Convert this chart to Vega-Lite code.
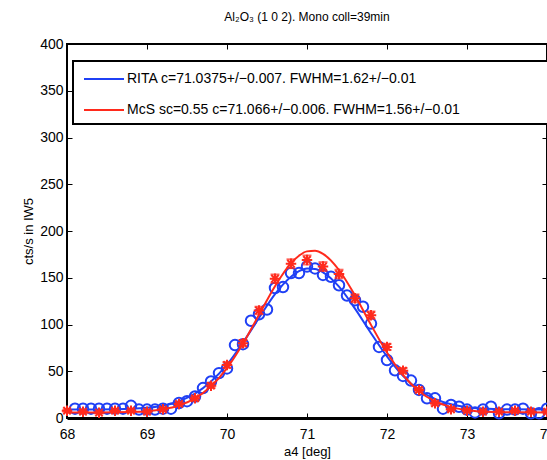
{
  "$schema": "https://vega.github.io/schema/vega-lite/v6.json",
  "width": 480,
  "height": 374,
  "autosize": {"type": "none"},
  "padding": {"left": 67, "top": 44, "right": 0, "bottom": 42},
  "background": "white",
  "title": {"text": "Al₂O₃ (1 0 2). Mono coll=39min", "fontSize": 12, "font": "Liberation Sans", "fontWeight": "normal", "color": "black", "anchor": "middle", "offset": 13},
  "datasets": {
    "fit": [
      {"s": "RITA", "x": 68.0, "y": 9}, {"s": "RITA", "x": 68.4, "y": 9.1}, {"s": "RITA", "x": 68.8, "y": 9.8}, {"s": "RITA", "x": 69.0, "y": 10.9}, {"s": "RITA", "x": 69.2, "y": 13.2}, {"s": "RITA", "x": 69.4, "y": 17.9}, {"s": "RITA", "x": 69.6, "y": 26}, {"s": "RITA", "x": 69.8, "y": 39}, {"s": "RITA", "x": 70.0, "y": 57}, {"s": "RITA", "x": 70.2, "y": 80.7}, {"s": "RITA", "x": 70.4, "y": 107}, {"s": "RITA", "x": 70.6, "y": 132.5}, {"s": "RITA", "x": 70.8, "y": 151}, {"s": "RITA", "x": 70.9, "y": 157}, {"s": "RITA", "x": 71.0, "y": 159.8}, {"s": "RITA", "x": 71.1, "y": 159.4}, {"s": "RITA", "x": 71.2, "y": 155.8}, {"s": "RITA", "x": 71.4, "y": 140.5}, {"s": "RITA", "x": 71.6, "y": 117}, {"s": "RITA", "x": 71.8, "y": 90.7}, {"s": "RITA", "x": 72.0, "y": 65.8}, {"s": "RITA", "x": 72.2, "y": 45}, {"s": "RITA", "x": 72.4, "y": 30}, {"s": "RITA", "x": 72.6, "y": 20.4}, {"s": "RITA", "x": 72.8, "y": 14.7}, {"s": "RITA", "x": 73.0, "y": 11.6}, {"s": "RITA", "x": 73.2, "y": 10.1}, {"s": "RITA", "x": 73.5, "y": 9.25}, {"s": "RITA", "x": 74.0, "y": 9},
      {"s": "McS", "x": 68.0, "y": 6}, {"s": "McS", "x": 68.4, "y": 6}, {"s": "McS", "x": 68.8, "y": 6.5}, {"s": "McS", "x": 69.0, "y": 7.3}, {"s": "McS", "x": 69.2, "y": 9.3}, {"s": "McS", "x": 69.4, "y": 13.3}, {"s": "McS", "x": 69.6, "y": 20.9}, {"s": "McS", "x": 69.8, "y": 33.9}, {"s": "McS", "x": 70.0, "y": 53.4}, {"s": "McS", "x": 70.2, "y": 79.7}, {"s": "McS", "x": 70.4, "y": 110.4}, {"s": "McS", "x": 70.6, "y": 141}, {"s": "McS", "x": 70.8, "y": 165.6}, {"s": "McS", "x": 70.9, "y": 173.6}, {"s": "McS", "x": 71.0, "y": 178.2}, {"s": "McS", "x": 71.1, "y": 178.8}, {"s": "McS", "x": 71.2, "y": 175.5}, {"s": "McS", "x": 71.4, "y": 158.3}, {"s": "McS", "x": 71.6, "y": 131}, {"s": "McS", "x": 71.8, "y": 99.6}, {"s": "McS", "x": 72.0, "y": 70}, {"s": "McS", "x": 72.2, "y": 46}, {"s": "McS", "x": 72.4, "y": 28.7}, {"s": "McS", "x": 72.6, "y": 17.9}, {"s": "McS", "x": 72.8, "y": 11.6}, {"s": "McS", "x": 73.0, "y": 8.4}, {"s": "McS", "x": 73.2, "y": 7.0}, {"s": "McS", "x": 73.5, "y": 6.2}, {"s": "McS", "x": 74.0, "y": 6}
    ],
    "rita": [
      {"x": 68.1, "y": 10}, {"x": 68.2, "y": 10}, {"x": 68.3, "y": 10}, {"x": 68.4, "y": 10}, {"x": 68.5, "y": 10}, {"x": 68.6, "y": 10}, {"x": 68.7, "y": 10}, {"x": 68.8, "y": 13}, {"x": 68.9, "y": 9}, {"x": 69.0, "y": 9}, {"x": 69.1, "y": 9}, {"x": 69.2, "y": 10}, {"x": 69.3, "y": 10}, {"x": 69.4, "y": 16}, {"x": 69.5, "y": 18}, {"x": 69.6, "y": 23}, {"x": 69.7, "y": 32}, {"x": 69.8, "y": 39}, {"x": 69.9, "y": 48}, {"x": 70.0, "y": 53}, {"x": 70.1, "y": 78}, {"x": 70.2, "y": 79}, {"x": 70.3, "y": 104}, {"x": 70.4, "y": 111}, {"x": 70.5, "y": 116}, {"x": 70.6, "y": 139}, {"x": 70.7, "y": 140}, {"x": 70.8, "y": 155}, {"x": 70.9, "y": 155}, {"x": 71.0, "y": 162}, {"x": 71.1, "y": 160}, {"x": 71.2, "y": 153}, {"x": 71.3, "y": 151}, {"x": 71.4, "y": 142}, {"x": 71.5, "y": 131}, {"x": 71.6, "y": 126}, {"x": 71.7, "y": 119}, {"x": 71.8, "y": 101}, {"x": 71.9, "y": 76}, {"x": 72.0, "y": 62}, {"x": 72.1, "y": 51}, {"x": 72.2, "y": 45}, {"x": 72.3, "y": 40}, {"x": 72.4, "y": 30}, {"x": 72.5, "y": 21}, {"x": 72.6, "y": 21}, {"x": 72.7, "y": 10}, {"x": 72.8, "y": 14}, {"x": 72.9, "y": 12}, {"x": 73.0, "y": 9}, {"x": 73.1, "y": 6}, {"x": 73.2, "y": 9}, {"x": 73.3, "y": 12}, {"x": 73.4, "y": 5}, {"x": 73.5, "y": 9}, {"x": 73.6, "y": 9}, {"x": 73.7, "y": 10}, {"x": 73.8, "y": 5}, {"x": 73.9, "y": 5}, {"x": 74.0, "y": 10}
    ],
    "mcs": [
      {"x": 68.0, "y": 7.8, "err": 1.2}, {"x": 68.2, "y": 6.7, "err": 1.1}, {"x": 68.4, "y": 5.7, "err": 1.0}, {"x": 68.6, "y": 7.8, "err": 1.2}, {"x": 68.8, "y": 7.8, "err": 1.2}, {"x": 69.0, "y": 6.7, "err": 1.1}, {"x": 69.2, "y": 9.3, "err": 1.3}, {"x": 69.4, "y": 15, "err": 1.6}, {"x": 69.6, "y": 21, "err": 1.9}, {"x": 69.8, "y": 34.6, "err": 2.4}, {"x": 70.0, "y": 56.7, "err": 3.0}, {"x": 70.2, "y": 80, "err": 3.4}, {"x": 70.4, "y": 115, "err": 4.0}, {"x": 70.6, "y": 149, "err": 4.5}, {"x": 70.8, "y": 165, "err": 4.7}, {"x": 71.0, "y": 169, "err": 4.8}, {"x": 71.2, "y": 162, "err": 4.7}, {"x": 71.4, "y": 154, "err": 4.6}, {"x": 71.6, "y": 128, "err": 4.2}, {"x": 71.8, "y": 110, "err": 3.9}, {"x": 72.0, "y": 76, "err": 3.3}, {"x": 72.2, "y": 50.6, "err": 2.8}, {"x": 72.4, "y": 30, "err": 2.2}, {"x": 72.6, "y": 15.7, "err": 1.6}, {"x": 72.8, "y": 9.3, "err": 1.3}, {"x": 73.0, "y": 7.8, "err": 1.2}, {"x": 73.2, "y": 6.7, "err": 1.1}, {"x": 73.4, "y": 6.7, "err": 1.1}, {"x": 73.6, "y": 7.8, "err": 1.2}, {"x": 73.8, "y": 6.7, "err": 1.1}, {"x": 74.0, "y": 6.7, "err": 1.1}
    ]
  },
  "resolve": {"axis": {"x": "independent", "y": "independent"}},
  "layer": [
    {
      "data": {"name": "rita"},
      "mark": {"type": "point", "shape": "circle", "filled": false, "size": 110, "strokeWidth": 2, "color": "#1f40f5", "opacity": 1},
      "encoding": {
        "x": {"field": "x", "type": "quantitative", "scale": {"domain": [68, 74], "nice": false, "zero": false},
              "axis": {"orient": "top", "labels": false, "title": null, "values": [68, 69, 70, 71, 72, 73, 74], "domain": false}},
        "y": {"field": "y", "type": "quantitative", "scale": {"domain": [0, 400], "nice": false},
              "axis": {"orient": "right", "labels": false, "title": null, "values": [0, 50, 100, 150, 200, 250, 300, 350, 400], "domain": false}}
      }
    },
    {
      "data": {"name": "fit"},
      "mark": {"type": "line", "strokeWidth": 2, "interpolate": "monotone"},
      "encoding": {
        "x": {"field": "x", "type": "quantitative",
              "axis": {"orient": "bottom", "title": "a4 [deg]", "labelPadding": 14, "values": [68, 69, 70, 71, 72, 73, 74], "domain": true, "domainColor": "black", "domainWidth": 3}},
        "y": {"field": "y", "type": "quantitative",
              "axis": {"orient": "left", "title": "cts/s in IW5", "labelPadding": 9, "values": [0, 50, 100, 150, 200, 250, 300, 350, 400], "domain": false}},
        "color": {"field": "s", "type": "nominal",
                  "scale": {"domain": ["RITA", "McS"], "range": ["#1f40f5", "#ff2a1c"]},
                  "legend": {"orient": "none", "legendX": 6, "legendY": 17, "title": " ", "titleOrient": "right", "titlePadding": 83,
                             "symbolType": "M-2,0H2", "symbolSize": 400, "symbolStrokeWidth": 2, "symbolFillColor": "transparent", "symbolOffset": 13,
                             "labelFontSize": 14, "labelFont": "Liberation Sans", "labelColor": "black", "labelOffset": 12, "labelLimit": 600,
                             "padding": 7, "rowPadding": 13, "strokeColor": "black", "fillColor": "white",
                             "labelExpr": "datum.value == 'RITA' ? 'RITA c=71.0375+/−0.007. FWHM=1.62+/−0.01' : 'McS sc=0.55 c=71.066+/−0.006. FWHM=1.56+/−0.01'",
                             "encode": {"legend": {"update": {"strokeWidth": {"value": 2}}}}}}
      }
    },
    {
      "data": {"name": "mcs"},
      "mark": {"type": "errorbar", "color": "#ff2a1c", "thickness": 2, "ticks": {"size": 9, "thickness": 2}},
      "encoding": {
        "x": {"field": "x", "type": "quantitative", "axis": null},
        "y": {"field": "y", "type": "quantitative", "axis": null},
        "yError": {"field": "err"}
      }
    },
    {
      "data": {"name": "mcs"},
      "mark": {"type": "point", "shape": "M-1,0H1M0,-1V1M-0.7,-0.7L0.7,0.7M-0.7,0.7L0.7,-0.7", "filled": false, "size": 110, "strokeWidth": 2, "color": "#ff2a1c", "opacity": 1},
      "encoding": {
        "x": {"field": "x", "type": "quantitative", "axis": null},
        "y": {"field": "y", "type": "quantitative", "axis": null}
      }
    }
  ],
  "config": {
    "view": {"stroke": "black", "strokeWidth": 2},
    "font": "Liberation Sans",
    "axis": {"grid": false, "tickColor": "black", "tickSize": -5, "tickWidth": 1, "labelColor": "black", "labelFont": "Liberation Sans", "labelFontSize": 14, "labelFlush": false, "labelOverlap": false, "titleFont": "Liberation Sans", "titleFontSize": 13, "titleFontWeight": "normal", "titleColor": "black"}
  }
}
